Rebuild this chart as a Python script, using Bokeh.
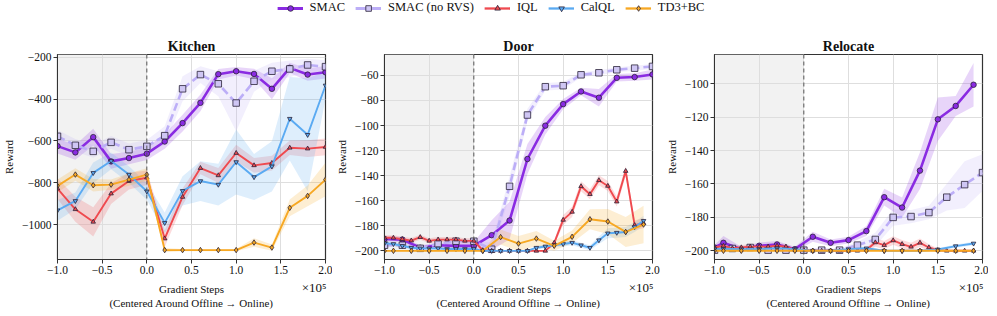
import numpy as np
from bokeh.plotting import figure
from bokeh.models import (ColumnDataSource, FixedTicker, Span, BoxAnnotation, Label,
                          Legend, LegendItem, Range1d)
from bokeh.layouts import column, row
from bokeh.embed import file_html
from bokeh.resources import INLINE

FONT = "Liberation Serif"

SERIES = ["SMAC", "SMAC (no RVS)", "IQL", "CalQL", "TD3+BC"]
LINE_COLORS = ["#8a2be2", "#bcaef7", "#ef4a4f", "#5aaaf2", "#f7a823"]
MARKER_FILLS = ["#8a2be2", "#cfc6f4", "#ef4a4f", "#5aaaf2", "#f7a823"]
MARKERS = ["circle", "square", "triangle", "inverted_triangle", "diamond"]
MARKER_SIZES = [5.5, 6.5, 4.5, 4.5, 5.5]
LINE_WIDTHS = [2.6, 2.6, 1.9, 1.9, 1.9]
DASHES = ["solid", "8 4", "solid", "solid", "solid"]

X_MIN, X_MAX, SWITCH = -1.0, 2.0, 0.0
X_TICKS = [-1.0, -0.5, 0.0, 0.5, 1.0, 1.5, 2.0]

X_EVEN = [-1.0, -0.8, -0.6, -0.4, -0.2, 0.0, 0.2, 0.4, 0.6, 0.8, 1.0, 1.2, 1.4, 1.6, 1.8, 2.0]
X_ODD = [-1.0, -0.9, -0.7, -0.5, -0.3, -0.1, 0.1, 0.3, 0.5, 0.7, 0.9, 1.1, 1.3, 1.5, 1.7, 1.9]
X_TENTHS = [-1.0, -0.9, -0.8, -0.7, -0.6, -0.5, -0.4, -0.3, -0.2, -0.1, 0.0, 0.1, 0.2, 0.3, 0.4,
            0.5, 0.6, 0.7, 0.8, 0.9, 1.0, 1.1, 1.2, 1.3, 1.4, 1.5, 1.6, 1.7, 1.8, 1.9]

KITCHEN_SMAC = [-625, -655, -582, -698, -682, -661, -603, -515, -418, -281, -267, -280, -351, -251, -283, -272]
KITCHEN_SMAC_SD = [35, 35, 40, 35, 30, 30, 35, 40, 40, 25, 20, 25, 50, 25, 30, 30]
KITCHEN_NORVS = [-578, -621, -650, -607, -642, -626, -575, -351, -283, -327, -419, -315, -267, -256, -237, -245]
KITCHEN_NORVS_SD = [30, 30, 30, 30, 30, 30, 45, 60, 40, 60, 135, 50, 40, 40, 30, 30]
KITCHEN_IQL = [-828, -927, -987, -852, -792, -776, -1067, -868, -730, -765, -658, -717, -706, -633, -637, -629]
KITCHEN_IQL_SD = [50, 60, 70, 50, 40, 35, 40, 40, 30, 35, 40, 35, 35, 35, 40, 40]
KITCHEN_CALQL = [-932, -887, -753, -696, -761, -841, -992, -839, -792, -809, -701, -773, -722, -494, -571, -335]
KITCHEN_CALQL_SD = [50, 40, 50, 40, 40, 40, 50, 70, 95, 100, 155, 110, 120, 200, 270, 65]
KITCHEN_TD3 = [-815, -761, -812, -809, -785, -761, -1122, -1122, -1122, -1122, -1122, -1086, -1110, -920, -863, -785]
KITCHEN_TD3_SD = [30, 30, 30, 25, 30, 30, 10, 5, 5, 5, 5, 20, 15, 40, 50, 80]
KITCHEN_YTICKS = [-1000, -800, -600, -400, -200]
KITCHEN_YRANGE = (-1167, -187)

DOOR_SMAC = [-190.5, -191, -197.5, -195.5, -196, -196, -187.5, -175.8, -126.7, -100.1, -82.9, -72.8, -77.8, -61.9, -61.3, -59.2]
DOOR_SMAC_SD = [2, 2, 2, 2, 2, 3, 12, 15, 12, 7, 4, 3, 7, 3, 3, 4]
DOOR_NORVS = [-195.5, -195.5, -198, -194.4, -192.3, -192.3, -198.7, -148.5, -91.6, -69, -68.2, -59.5, -57.9, -55.5, -54.2, -52.8]
DOOR_NORVS_SD = [1.5, 1.5, 1.5, 1.5, 1.5, 1.5, 5, 8, 5, 3, 3, 2, 2, 2, 2, 2]
DOOR_IQL = [-189.6, -189.6, -190.7, -191.8, -189.1, -192, -191, -191, -191, -192, -192, -199.5, -200, -200, -200,
            -200, -200, -200, -200, -193.6, -175.3, -168.9, -148.5, -154.8, -143.7, -148.2, -160.7, -136.3, -179.5, -178]
DOOR_IQL_SD = [2, 2, 2, 2, 2, 2, 2, 2, 2, 2, 2, 1, 0.5, 0.5, 0.5,
               0.5, 0.5, 0.5, 0.5, 2, 4, 4, 4, 4, 4, 4, 4, 4, 4, 4]
DOOR_CALQL = [-194, -194.5, -196, -197.5, -198, -198, -198, -198.5, -198.5, -198.5, -198.5, -200, -200, -200, -200,
              -200, -200, -197.5, -196.5, -195.5, -194.5, -193.5, -195.5, -197.5, -191.5, -186, -185.5, -185, -181, -176]
DOOR_CALQL_SD = [1.5, 1.5, 1.5, 1.5, 1.5, 1.5, 1.5, 1.5, 1.5, 1.5, 1.5, 0.5, 0.5, 0.5, 0.5,
                 0.5, 0.5, 1.5, 1.5, 1.5, 2, 2, 2, 2, 3, 4, 4, 4, 4, 4]
DOOR_TD3 = [-200, -200, -200, -200, -200, -200, -200, -189, -194.2, -190.2, -196, -188.8, -174.8, -176.6, -184.9, -179]
DOOR_TD3_SD = [0.5, 0.5, 0.5, 0.5, 0.5, 0.5, 0.5, 6, 6, 6, 4, 5, 8, 10, 12, 15]
DOOR_YTICKS = [-200, -180, -160, -140, -120, -100, -80, -60]
DOOR_YRANGE = (-206.9, -43.3)

RELOC_SMAC = [-198, -195.2, -199, -197, -196.2, -199, -191.6, -195.2, -193.6, -188.2, -167.9, -174.1, -152, -121.3, -113.3, -100.6]
RELOC_SMAC_SD = [1.5, 4, 1.5, 2, 2, 1.5, 3, 2, 2, 3, 5, 6, 11, 13, 6, 13]
RELOC_NORVS = [-199.6, -198.6, -198, -199.6, -199.6, -199.6, -199.6, -199.6, -196.6, -193.2, -180, -179.5, -177.1, -167.9, -160.4, -153.2]
RELOC_NORVS_SD = [1, 1, 1, 1, 1, 1, 1, 1, 2, 4, 5, 4, 4, 8, 14, 11]
RELOC_IQL = [-198, -197, -198.5, -198, -197.5, -197.5, -197.5, -197, -197.5, -199.5, -199.5, -200, -200, -200, -200,
             -200, -200, -199.5, -195, -196.6, -193.8, -196, -197.6, -195.2, -198, -199.6, -200, -200, -200, -200]
RELOC_IQL_SD = [1.5, 1.5, 1.5, 1.5, 1.5, 1.5, 1.5, 1.5, 1.5, 1, 1, 0.5, 0.5, 0.5, 0.5,
                0.5, 0.5, 1, 2.5, 2.5, 2.5, 2.5, 2.5, 2.5, 2, 1, 0.5, 0.5, 0.5, 0.5]
RELOC_CALQL = [-199, -198.8, -199, -199, -198.5, -199, -200, -200, -199, -198.5, -200, -200, -200, -199.2, -197.2, -195.6]
RELOC_CALQL_SD = [0.8, 0.8, 0.8, 0.8, 0.8, 0.8, 0.5, 0.5, 0.8, 0.8, 0.5, 0.5, 0.5, 0.8, 1, 1]
RELOC_TD3 = [-200, -200, -200, -200, -200, -200, -200, -200, -200, -200, -200, -200, -200, -200, -200, -200]
RELOC_TD3_SD = [0.3, 0.3, 0.3, 0.3, 0.3, 0.3, 0.3, 0.3, 0.3, 0.3, 0.3, 0.3, 0.3, 0.3, 0.3, 0.3]
RELOC_YTICKS = [-200, -180, -160, -140, -120, -100]
RELOC_YRANGE = (-205.2, -82.5)

PANELS = [
    ("Kitchen", KITCHEN_YTICKS, KITCHEN_YRANGE, [
        (X_EVEN, KITCHEN_SMAC, KITCHEN_SMAC_SD),
        (X_EVEN, KITCHEN_NORVS, KITCHEN_NORVS_SD),
        (X_EVEN, KITCHEN_IQL, KITCHEN_IQL_SD),
        (X_EVEN, KITCHEN_CALQL, KITCHEN_CALQL_SD),
        (X_EVEN, KITCHEN_TD3, KITCHEN_TD3_SD)]),
    ("Door", DOOR_YTICKS, DOOR_YRANGE, [
        (X_EVEN, DOOR_SMAC, DOOR_SMAC_SD),
        (X_EVEN, DOOR_NORVS, DOOR_NORVS_SD),
        (X_TENTHS, DOOR_IQL, DOOR_IQL_SD),
        (X_TENTHS, DOOR_CALQL, DOOR_CALQL_SD),
        (X_ODD, DOOR_TD3, DOOR_TD3_SD)]),
    ("Relocate", RELOC_YTICKS, RELOC_YRANGE, [
        (X_ODD, RELOC_SMAC, RELOC_SMAC_SD),
        (X_EVEN, RELOC_NORVS, RELOC_NORVS_SD),
        (X_TENTHS, RELOC_IQL, RELOC_IQL_SD),
        (X_ODD, RELOC_CALQL, RELOC_CALQL_SD),
        (X_ODD, RELOC_TD3, RELOC_TD3_SD)]),
]

EDGE = "#2a2238"
FRAME_W, FRAME_H, BOTTOM = 268, 205, 49


def fmt(v, decimals):
    return f"{v:.{decimals}f}".replace("-", "\u2212")


def make_panel(k, title, yticks, yrange, series):
    left = [50, 52, 52][k]
    right = [7, 10, 6][k]
    p = figure(frame_width=FRAME_W, frame_height=FRAME_H, output_backend="svg", toolbar_location=None,
               x_range=Range1d(X_MIN, X_MAX), y_range=Range1d(*yrange),
               min_border_left=left, min_border_right=right, min_border_top=26,
               min_border_bottom=BOTTOM, background_fill_color="white")
    p.title.text = title
    p.title.align = "center"
    p.title.text_font = FONT
    p.title.text_font_style = "bold"
    p.title.text_font_size = "14px"
    p.title.text_color = "#111111"
    p.title.standoff = 2
    p.outline_line_color = "#333333"
    p.outline_line_width = 1.2
    p.outline_line_alpha = 1

    p.add_layout(BoxAnnotation(left=X_MIN, right=SWITCH, fill_color="#f2f2f2", fill_alpha=1,
                               line_alpha=0, level="image"))

    for ax in (p.xaxis[0], p.yaxis[0]):
        ax.major_label_text_font = FONT
        ax.major_label_text_font_size = "11.5px"
        ax.major_label_text_color = "#111111"
        ax.axis_label_text_font = FONT
        ax.axis_label_text_font_size = "11px"
        ax.axis_label_text_font_style = "normal"
        ax.axis_label_text_color = "#111111"
        ax.major_tick_in = 0
        ax.major_tick_out = 4
        ax.minor_tick_in = 0
        ax.minor_tick_out = 0
        ax.axis_line_color = "#333333"
        ax.major_tick_line_color = "#333333"
        ax.major_label_standoff = 2

    p.xaxis.ticker = FixedTicker(ticks=X_TICKS)
    p.xaxis.major_label_overrides = {t: fmt(t, 1) for t in X_TICKS}
    p.xaxis.axis_label = "Gradient Steps\n(Centered Around Offline \u2192 Online)"
    p.xaxis.axis_label_standoff = 6
    p.yaxis.ticker = FixedTicker(ticks=yticks)
    p.yaxis.major_label_overrides = {t: fmt(t, 0) for t in yticks}
    p.yaxis.axis_label = "Reward"
    p.yaxis.axis_label_standoff = 4

    p.xgrid.grid_line_color = "#dedede"
    p.ygrid.grid_line_color = "#dedede"

    p.add_layout(Span(location=SWITCH, dimension="height", line_dash="4 3",
                      line_color="#555555", line_width=1))

    for i, (xs, ys, sd) in enumerate(series):
        x = np.array(xs, dtype=float)
        y = np.array(ys, dtype=float)
        s = np.array(sd, dtype=float)
        p.varea(x=x, y1=y - s, y2=y + s, fill_color=LINE_COLORS[i], fill_alpha=0.2)

    for i, (xs, ys, sd) in enumerate(series):
        src = ColumnDataSource(dict(x=list(xs), y=list(ys)))
        p.line("x", "y", source=src, line_color=LINE_COLORS[i], line_width=LINE_WIDTHS[i],
               line_dash=DASHES[i])
        p.scatter("x", "y", source=src, marker=MARKERS[i], size=MARKER_SIZES[i],
                  fill_color=MARKER_FILLS[i], line_color=EDGE, line_width=0.8)

    # offset multiplier note, anchored to the frame's bottom-right corner, drawn in the panel below
    p.add_layout(Label(x=X_MAX, y=yrange[0], x_units="data", y_units="data",
                       x_offset=1, y_offset=-20,
                       text="\u00d710\u2075", text_align="right", text_baseline="top",
                       text_font=FONT, text_font_size="13px", text_color="#111111"), "below")
    return p


panels = [make_panel(k, *args) for k, args in enumerate(PANELS)]

# legend strip
LEG_X, LEG_Y = [-10.0], [-10.0]   # off-screen anchor so only legend glyphs show
leg = figure(width=981, height=28, output_backend="svg", toolbar_location=None,
             x_range=Range1d(0, 1), y_range=Range1d(0, 1), x_axis_type=None, y_axis_type=None,
             min_border=0)
leg.outline_line_color = None
leg.grid.visible = False
items = []
for i, name in enumerate(SERIES):
    src = ColumnDataSource(dict(x=LEG_X, y=LEG_Y))
    r1 = leg.line("x", "y", source=src, line_color=LINE_COLORS[i], line_width=LINE_WIDTHS[i] + 0.4)
    r2 = leg.scatter("x", "y", source=src, marker=MARKERS[i], size=MARKER_SIZES[i],
                     fill_color=MARKER_FILLS[i], line_color=EDGE, line_width=0.8)
    items.append(LegendItem(label=name, renderers=[r1, r2]))
legend = Legend(items=items, orientation="horizontal", location="top", margin=0, padding=3,
                spacing=10, glyph_width=26, glyph_height=14, label_standoff=7,
                label_text_font=FONT, label_text_font_size="12.5px", label_text_color="#111111",
                border_line_color=None, background_fill_alpha=0)
leg.add_layout(legend, "center")

layout = column(leg, row(*panels, spacing=0), spacing=0)
open("out.html", "w").write(file_html(layout, INLINE))
